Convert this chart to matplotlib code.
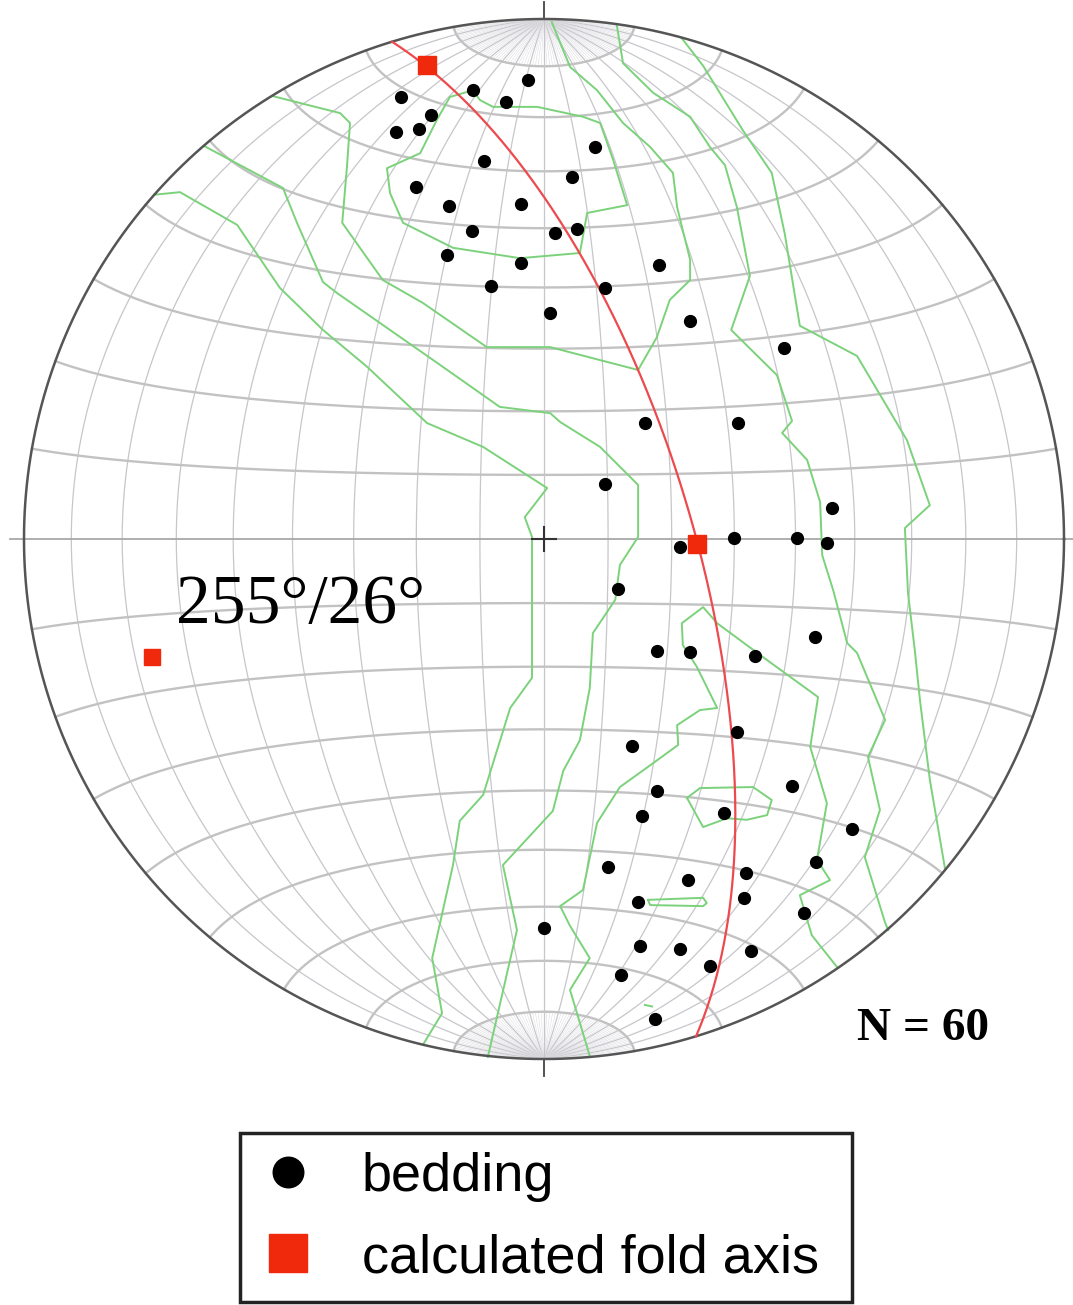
import numpy as np
import matplotlib
matplotlib.use('Agg')
import matplotlib.pyplot as plt
from matplotlib.lines import Line2D

# poles to bedding, equal-area net coordinates (primitive radius = 100)
bed_x = [-3.1, -13.7, -27.5, -7.3, -21.7, -28.5, -24.0, 9.8, -11.5, 5.4,
         -24.6, -18.3, -4.4, -13.8, 2.1, 6.3, -18.7, -4.4, 22.1, -10.2,
         11.7, 1.2, 28.1, 46.2, 19.4, 37.3, 11.7, 55.4, 26.2, 36.5,
         48.7, 54.4, 14.2, 52.1, 21.7, 28.1, 40.6, 37.1, 16.9, 47.7,
         21.7, 34.6, 18.8, 59.2, 12.3, 52.3, 27.7, 38.8, 18.1, 38.5,
         50.0, 0.0, 18.5, 26.2, 39.8, 31.9, 14.8, 21.3]
bed_y = [88.3, 86.3, 85.0, 84.0, 81.5, 78.3, 78.8, 75.4, 72.7, 69.6,
         67.7, 64.0, 64.4, 59.2, 58.8, 59.6, 54.6, 53.1, 52.7, 48.7,
         48.3, 43.5, 41.9, 36.7, 22.3, 22.3, 10.6, 6.0, -1.5, 0.2,
         0.2, -0.8, -9.6, -18.8, -21.5, -21.7, -22.5, -37.1, -39.8, -47.5,
         -48.5, -52.7, -53.3, -55.8, -63.1, -62.1, -65.6, -64.2, -69.8, -69.0,
         -71.9, -74.8, -78.3, -78.8, -79.2, -82.1, -83.8, -92.3]

# calculated fold axes (red squares)
axis_x = [-22.5, 29.4, -75.4]
axis_y = [91.2, -1.0, -22.7]

# best-fit girdle (dip direction / dip)
girdle_dipdir = 73
girdle_dip = 67

# density contours
cont_1 = [(-75.0, 66.2), (-70.0, 66.7), (-59.0, 60.4), (-50.8, 48.3), (-42.5, 40.2),
          (-34.0, 33.1), (-22.5, 22.3), (-11.7, 17.7), (0.6, 9.8), (-3.7, 4.2),
          (-2.3, 0.4), (-2.3, -26.7), (-6.5, -32.5), (-11.7, -49.2), (-16.2, -54.2),
          (-17.5, -62.7), (-21.5, -80.6), (-19.6, -91.2), (-23.3, -97.3)]
cont_2 = [(-65.4, 75.6), (-50.2, 67.5), (-47.5, 60.8), (-42.5, 49.4), (-39.8, 47.3),
          (-21.3, 34.4), (-8.5, 25.4), (1.2, 24.2), (3.1, 22.5), (10.8, 17.7),
          (18.1, 10.4), (18.1, 0.4), (14.6, -5.0), (13.7, -11.7), (9.4, -18.1),
          (8.8, -28.7), (6.9, -38.7), (3.7, -44.6), (1.7, -52.3), (-7.9, -62.7),
          (-5.2, -75.2), (-10.8, -99.6)]
cont_3 = [(-52.3, 85.2), (-39.2, 81.9), (-37.3, 80.0), (-37.9, 71.5), (-38.8, 60.8),
          (-31.0, 49.8), (-23.3, 45.4), (-11.0, 36.9), (1.2, 36.9), (18.1, 32.5),
          (21.7, 38.8), (24.2, 46.0), (28.1, 49.8), (28.1, 53.7), (25.6, 63.8),
          (24.8, 70.4), (20.4, 75.4), (15.2, 80.0), (10.2, 86.3), (5.0, 90.8),
          (1.5, 99.4)]
cont_4 = [(-13.7, 86.3), (-12.3, 84.4), (-9.8, 83.1), (-1.3, 83.1), (7.5, 81.2),
          (10.8, 80.0), (13.3, 72.9), (16.0, 64.2), (8.3, 62.7), (6.9, 55.0),
          (-4.6, 54.0), (-17.5, 56.0), (-27.1, 60.8), (-29.6, 66.5), (-30.2, 71.3),
          (-23.8, 74.2), (-20.6, 80.6), (-18.1, 85.0), (-13.7, 86.3)]
cont_5 = [(14.0, 98.8), (15.2, 91.5), (21.0, 85.8), (28.1, 81.2), (31.9, 75.4),
          (34.8, 71.9), (37.1, 63.8), (39.6, 50.6), (36.0, 40.2), (44.8, 31.5),
          (47.7, 22.7), (45.8, 20.4), (50.6, 15.2), (53.1, 7.1), (53.5, -3.1),
          (55.6, -9.8), (58.3, -20.0), (60.2, -21.9), (65.6, -34.8), (62.3, -41.9),
          (64.6, -52.1), (61.7, -61.2), (65.6, -73.8), (66.2, -75.2)]
cont_6 = [(26.5, 96.3), (30.6, 91.0), (38.3, 78.5), (43.8, 70.4), (46.3, 58.7),
          (49.2, 41.0), (60.2, 35.2), (69.8, 19.0), (74.2, 6.5), (69.4, 2.1),
          (70.0, -10.4), (71.3, -21.3), (72.3, -31.0), (74.2, -46.3), (77.1, -63.3)]
cont_7 = [(8.8, -99.4), (5.0, -86.7), (8.8, -80.6), (5.0, -74.4), (3.1, -70.6),
          (7.5, -67.5), (10.2, -54.6), (14.6, -47.7), (21.0, -43.1), (25.8, -39.6),
          (25.6, -35.8), (30.0, -32.9), (33.3, -32.5), (29.4, -24.6), (26.7, -20.4),
          (26.5, -16.2), (30.6, -13.1), (33.3, -16.2), (42.1, -22.7), (52.7, -30.4),
          (51.2, -40.0), (54.4, -50.8), (52.5, -61.7), (55.0, -65.6), (49.2, -68.5),
          (51.5, -76.2), (56.5, -82.5)]
cont_8 = [(27.5, -49.8), (30.0, -47.9), (40.2, -47.7), (43.8, -50.2), (42.9, -53.1),
          (39.0, -54.0), (35.2, -53.7), (30.6, -55.4), (27.5, -49.8)]
cont_9 = [(20.0, -69.4), (30.6, -69.0), (31.3, -70.0), (30.6, -70.6), (20.4, -70.4),
          (20.0, -69.4)]
cont_10 = [(19.4, -89.6), (20.8, -89.9)]
contour_lines = [cont_1, cont_2, cont_3, cont_4, cont_5, cont_6, cont_7,
                 cont_8, cont_9, cont_10]


def project(n, e, d):
    # lower hemisphere equal-area (Schmidt) projection, radius 100
    k = 100.0 / np.sqrt(1.0 + d)
    return e * k, n * k


fig = plt.figure(figsize=(10.73, 13.05), dpi=100)
ax = fig.add_axes([0, 0, 1, 1])
ax.set_xlim(-544 / 5.2, (1073 - 544) / 5.2)
ax.set_ylim((539 - 1305) / 5.2, 539 / 5.2)
ax.axis('off')

grid_kw = dict(color='#c6c6cc', lw=0.9, zorder=1)
small_kw = dict(color='#c2c2c2', lw=1.7, zorder=1)

# meridians every 10 degrees
rho = np.linspace(0, np.pi, 361)
for dip in range(10, 90, 10):
    dd = np.radians(dip)
    for side in (1, -1):
        x, y = project(np.cos(rho), side * np.sin(rho) * np.cos(dd), np.sin(rho) * np.sin(dd))
        ax.plot(x, y, **grid_kw)

# fine meridians near the poles
for dip in range(2, 90, 2):
    if dip % 10 == 0:
        continue
    dd = np.radians(dip)
    for side in (1, -1):
        for r in (np.linspace(0, np.radians(10), 20), np.linspace(np.radians(170), np.pi, 20)):
            x, y = project(np.cos(r), side * np.sin(r) * np.cos(dd), np.sin(r) * np.sin(dd))
            ax.plot(x, y, color='#dadade', lw=0.35, zorder=1)

# small circles about the N-S axis
phi = np.linspace(0, np.pi, 181)
for a in range(10, 90, 10):
    aa = np.radians(a)
    for side in (1, -1):
        x, y = project(side * np.cos(aa) * np.ones_like(phi), np.sin(aa) * np.cos(phi), np.sin(aa) * np.sin(phi))
        ax.plot(x, y, **small_kw)

ax.plot([0, 0], [-100, 100], **grid_kw)
ax.plot([-102.7, 101.7], [0, 0], color='#a8a8a8', lw=1.3, zorder=1)
ax.plot([0, 0], [100, 103.2], color='#444444', lw=1.3, zorder=2)
ax.plot([0, 0], [-100, -103.2], color='#444444', lw=1.3, zorder=2)
ax.plot([-2.4, 2.4], [0, 0], color='#333333', lw=1.5, zorder=5)
ax.plot([0, 0], [-2.4, 2.4], color='#333333', lw=1.5, zorder=5)

# primitive circle
t = np.linspace(0, 2 * np.pi, 721)
ax.plot(100 * np.cos(t), 100 * np.sin(t), color='#555555', lw=1.8, zorder=3)

# contours
for line in contour_lines:
    cx, cy = zip(*line)
    ax.plot(cx, cy, color='#7bd27b', lw=1.4, zorder=2)

# girdle great circle
sd = np.radians(girdle_dipdir - 90)
ddir = np.radians(girdle_dipdir)
gd = np.radians(girdle_dip)
n = np.cos(rho) * np.cos(sd) + np.sin(rho) * np.cos(gd) * np.cos(ddir)
e = np.cos(rho) * np.sin(sd) + np.sin(rho) * np.cos(gd) * np.sin(ddir)
d = np.sin(rho) * np.sin(gd)
gx, gy = project(n, e, d)
ax.plot(gx, gy, color='#ec4a4e', lw=1.6, zorder=4)

ax.plot(bed_x, bed_y, 'o', color='black', markersize=8.5, zorder=6)
ax.plot(axis_x[:2], axis_y[:2], 's', color='#f0280c', markersize=13, zorder=7)
ax.plot(axis_x[2:], axis_y[2:], 's', color='#f0280c', markersize=11, zorder=7)

ax.text(-70.8, -16.2, '255\u00b0/26\u00b0', fontsize=50, family='Liberation Serif',
        ha='left', va='baseline')
ax.text(60.2, -96.3, 'N = 60', fontsize=34, family='Liberation Serif',
        fontweight='bold', ha='left', va='baseline')

handles = [Line2D([], [], marker='o', color='black', linestyle='none', markersize=22),
           Line2D([], [], marker='s', color='#f0280c', linestyle='none', markersize=27)]
leg = fig.legend(handles, ['bedding', 'calculated fold axis'], loc='upper left',
                 bbox_to_anchor=(240 / 1073, 0, 612 / 1073, 1 - 1133 / 1305),
                 bbox_transform=fig.transFigure, mode='expand',
                 borderaxespad=0, borderpad=0.35, handlelength=1.07, handletextpad=0.83,
                 labelspacing=0.58, fancybox=False, framealpha=1,
                 prop={'family': 'Liberation Sans', 'size': 39})
leg.get_frame().set_edgecolor('#222222')
leg.get_frame().set_linewidth(2.5)

fig.savefig('out.png', dpi=100)
